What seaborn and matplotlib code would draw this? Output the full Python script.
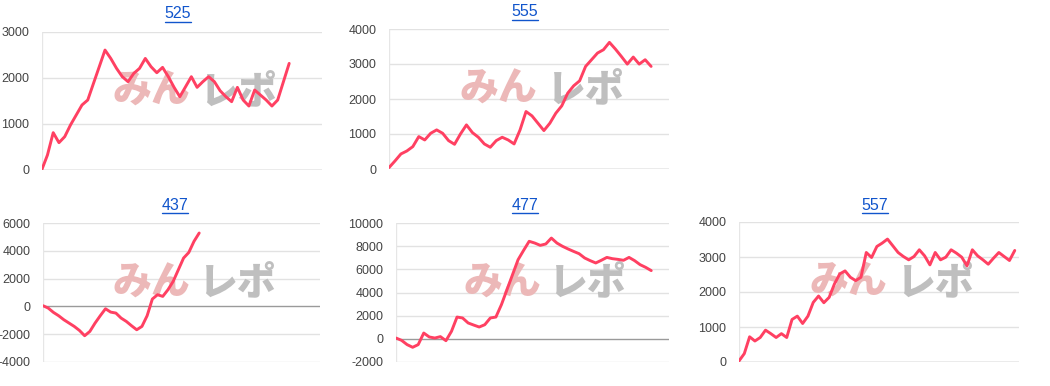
import matplotlib
matplotlib.use("Agg")
import matplotlib.pyplot as plt
from matplotlib.lines import Line2D
import seaborn as sns
import pandas as pd

# ---- data ----
titles = ["525", "555", "437", "477", "557"]

s525 = [0, 325, 810, 593, 723, 976, 1193, 1410, 1518, 1880, 2240, 2602, 2420, 2205,
        2024, 1916, 2096, 2205, 2420, 2240, 2110, 2226, 2024, 1793, 1590, 1807, 2024,
        1793, 1916, 2024, 1916, 1720, 1590, 1482, 1793, 1518, 1388, 1735, 1627, 1518,
        1388, 1518, 1916, 2313]
s555 = [40, 229, 430, 515, 640, 926, 830, 1021, 1117, 1021, 811, 706, 1002, 1260, 1040,
        907, 716, 621, 811, 907, 830, 716, 1117, 1642, 1518, 1308, 1098, 1308, 1594,
        1804, 2167, 2377, 2520, 2931, 3122, 3313, 3408, 3618, 3427, 3217, 2997, 3198,
        2997, 3122, 2931]
s437 = [50, -120, -430, -670, -960, -1200, -1440, -1730, -2110, -1800, -1200, -670,
        -170, -410, -480, -840, -1080, -1390, -1680, -1440, -670, 530, 840, 720, 1200,
        1800, 2640, 3480, 3880, 4680, 5280]
s477 = [70, -130, -500, -730, -500, 500, 160, 70, 190, -160, 650, 1880, 1800, 1370,
        1190, 1020, 1220, 1800, 1880, 2950, 4240, 5540, 6830, 7640, 8420, 8270, 8070,
        8190, 8700, 8270, 7990, 7760, 7550, 7350, 6980, 6750, 6550, 6780, 7030, 6920,
        6860, 6780, 7030, 6750, 6400, 6170, 5890]
s557 = [30, 240, 720, 600, 700, 910, 810, 700, 810, 700, 1215, 1311, 1100, 1311, 1703,
        1885, 1694, 1847, 2230, 2517, 2603, 2421, 2325, 2421, 3129, 2986, 3301, 3397,
        3512, 3321, 3129, 3014, 2919, 3014, 3206, 3033, 2775, 3129, 2919, 2995, 3206,
        3110, 2995, 2746, 3206, 3033, 2919, 2794, 2967, 3129, 3014, 2900, 3187]
series = [s525, s555, s437, s477, s557]

yticks = [[0, 1000, 2000, 3000],
          [0, 1000, 2000, 3000, 4000],
          [-4000, -2000, 0, 2000, 4000, 6000],
          [-2000, 0, 2000, 4000, 6000, 8000, 10000],
          [0, 1000, 2000, 3000, 4000]]
xmax = [48.7, 47.0, 53.2, 49.2, 52.8]
watermark_left = "みん"
watermark_right = "レポ"

# ---- layout (pixels) ----
W, H = 1050, 386
boxes = [(41.7, 322, 31.7, 170), (389, 669, 29, 169), (43, 320, 223, 362),
         (396, 669, 223, 362), (739, 1019, 222, 362)]
title_pos = [(178, 14), (525, 12), (175, 205), (525, 205), (875, 205)]

sns.set_style("white")
plt.rcParams['font.family'] = ['Liberation Sans', 'DejaVu Sans']

fig = plt.figure(figsize=(W / 100, H / 100), dpi=100)
line_color = "#ff4062"
title_texts = []

for i, vals in enumerate(series):
    l, r, t, b = boxes[i]
    ax = fig.add_axes([l / W, 1 - b / H, (r - l) / W, (b - t) / H])
    df = pd.DataFrame({"x": range(len(vals)), "y": vals})
    sns.lineplot(data=df, x="x", y="y", ax=ax, color=line_color, linewidth=2.1,
                 zorder=5)
    yt = yticks[i]
    ax.set_ylim(yt[0], yt[-1])
    ax.set_xlim(0, xmax[i])
    ax.set_yticks(yt)
    ax.set_yticklabels([str(v) for v in yt])
    ax.set_xticks([])
    ax.set_xlabel("")
    ax.set_ylabel("")
    ax.tick_params(axis="y", length=0, pad=9, labelsize=9, labelcolor="#444444")
    for sp in ax.spines.values():
        sp.set_visible(False)
    for v in yt:
        if v == 0:
            ax.axhline(v, color="#9a9a9a", lw=1.0, zorder=2)
        else:
            ax.axhline(v, color="#e2e2e2", lw=1.0, zorder=1)
    ax.axvline(0, color="#e6e6e6", lw=1.0, zorder=1)
    # watermark
    ax.text(0.39, 0.57, watermark_left, transform=ax.transAxes, ha="center",
            va="center", fontsize=28, fontweight="heavy", color="#ecb8b8",
            family=["Noto Sans CJK JP"], zorder=3)
    ax.text(0.70, 0.57, watermark_right, transform=ax.transAxes, ha="center",
            va="center", fontsize=28, fontweight="heavy", color="#bfbfbf",
            family=["Noto Sans CJK JP"], zorder=3)
    tx, ty = title_pos[i]
    tt = fig.text(tx / W, 1 - ty / H, titles[i], ha="center", va="center",
                  fontsize=11.5, color="#1155cc")
    title_texts.append(tt)

fig.canvas.draw()
renderer = fig.canvas.get_renderer()
for tt in title_texts:
    bb = tt.get_window_extent(renderer)
    y = bb.y0 - 0.5
    fig.add_artist(Line2D([bb.x0 / W, bb.x1 / W], [y / H, y / H],
                          transform=fig.transFigure, color="#1155cc", lw=1.0))

fig.savefig("out.png", dpi=100)
